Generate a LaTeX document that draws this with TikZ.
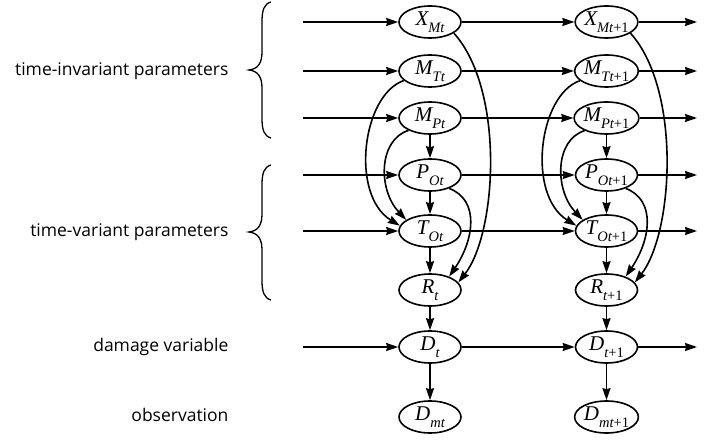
\documentclass[tikz,border=0pt]{standalone}
\usepackage{fontspec}
\setmainfont{Open Sans}
\newfontfamily\tms{Liberation Serif}
\usetikzlibrary{arrows.meta,shapes.geometric}
\newcommand\vlab[2]{{\tms\fontsize{21}{21}\selectfont\itshape #1\raisebox{-0.33em}{\fontsize{14.5}{14.5}\selectfont #2}}}
\tikzset{
  var/.style={draw, line width=1.6pt, ellipse, minimum width=62pt, minimum height=32pt, inner sep=0pt},
  arr/.style={line width=1.6pt, -{Stealth[length=12pt,width=8pt,inset=1pt]}},
  side/.style={anchor=east, font=\fontsize{17.5}{18}\selectfont},
  bracepath/.style={line width=1.3pt}
}
\begin{document}
\begin{tikzpicture}[x=1pt,y=-1pt]
\useasboundingbox (0,0) rectangle (721,441);
% side labels
\node[side] (l1) at (232,71) {time-invariant parameters};
\node[side] (l2) at (232,232) {time-variant parameters};
\node[side] (l3) at (232,347) {damage variable};
\node[side] (l4) at (232,415) {observation};
% braces
\draw[bracepath] (271,2) .. controls (264,4) and (262,10) .. (262,22) -- (262,52)
  .. controls (262,63) and (258,69) .. (249,70) .. controls (258,71) and (262,77) .. (262,88)
  -- (262,118) .. controls (262,130) and (264,136) .. (271,138);
\draw[bracepath] (271,165) .. controls (264,167) and (262,173) .. (262,185) -- (262,214)
  .. controls (262,225) and (258,231) .. (249,232) .. controls (258,233) and (262,239) .. (262,250)
  -- (262,280) .. controls (262,292) and (264,298) .. (271,300);
% column 1 nodes
\node[var] (Xa) at (430,22) {\vlab{X}{Mt}};
\node[var] (MTa) at (430,71) {\vlab{M}{Tt}};
\node[var] (MPa) at (430,118) {\vlab{M}{Pt}};
\node[var] (POa) at (430,175) {\vlab{P}{Ot}};
\node[var] (TOa) at (430,231) {\vlab{T}{Ot}};
\node[var] (Ra) at (430,290) {\vlab{R}{t}};
\node[var] (Da) at (430,347) {\vlab{D}{t}};
\node[var] (Dma) at (430,417) {\vlab{D}{mt}};
% column 2 nodes
\node[var] (Xb) at (606.5,22) {\vlab{X}{Mt\upshape+1}};
\node[var] (MTb) at (606.5,71) {\vlab{M}{Tt\upshape+1}};
\node[var] (MPb) at (606.5,118) {\vlab{M}{Pt\upshape+1}};
\node[var] (POb) at (606.5,175) {\vlab{P}{Ot\upshape+1}};
\node[var] (TOb) at (606.5,231) {\vlab{T}{Ot\upshape+1}};
\node[var] (Rb) at (606.5,290) {\vlab{R}{t\upshape+1}};
\node[var] (Db) at (606.5,347) {\vlab{D}{t\upshape+1}};
\node[var] (Dmb) at (606.5,417) {\vlab{D}{mt\upshape+1}};
% horizontal chains
\foreach \r/\y in {X/22,MT/71,MP/118,PO/175,TO/231,D/347}{
  \coordinate (in\r) at (303,\y);
  \coordinate (out\r) at (697,\y);
  \draw[arr] (in\r) -- (\r a);
  \draw[arr] (\r a) -- (\r b);
  \draw[arr] (\r b) -- (out\r);
}
% vertical and curved arrows per column
\foreach \c/\dx in {a/0,b/176.5}{
  \draw[arr] (MP\c) -- (PO\c);
  \draw[arr] (PO\c) -- (TO\c);
  \draw[arr] (TO\c) -- (R\c);
  \draw[arr] (R\c) -- (D\c);
  \draw[arr] (D\c) -- (Dm\c);
  \draw[arr] (X\c.-25) .. controls ({\dx+505},90) and ({\dx+497},233) .. (R\c.15);
  \draw[arr] (MT\c.-160) .. controls ({\dx+362},95) and ({\dx+350},195) .. (TO\c.170);
  \draw[arr] (MP\c.-150) .. controls ({\dx+378},140) and ({\dx+378},190) .. (TO\c.155);
  \draw[arr] (PO\c.-35) .. controls ({\dx+480},200) and ({\dx+474},240) .. (R\c.35);
}
\end{tikzpicture}
\end{document}
